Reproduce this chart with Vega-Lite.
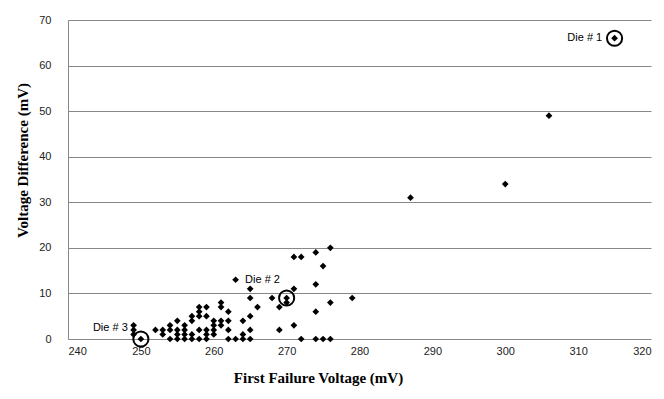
{
  "$schema": "https://vega.github.io/schema/vega-lite/v6.json",
  "width": 583,
  "height": 319,
  "autosize": "none",
  "padding": {"left": 68, "top": 20, "right": 13, "bottom": 60},
  "background": "white",
  "config": {
    "view": {"stroke": null},
    "axis": {"labelFont": "Liberation Sans", "labelFontSize": 11, "labelColor": "#222", "titleFont": "Liberation Serif", "titleFontSize": 15, "titleFontWeight": "bold", "titleColor": "#000", "domainColor": "#888", "gridColor": "#888", "ticks": false, "tickSize": 0}
  },
  "datasets": {
    "pts": [
      {"v": 315, "d": 66}, {"v": 306, "d": 49}, {"v": 300, "d": 34}, {"v": 287, "d": 31}, {"v": 279, "d": 9},
      {"v": 276, "d": 20}, {"v": 276, "d": 8}, {"v": 276, "d": 0}, {"v": 275, "d": 16}, {"v": 275, "d": 0},
      {"v": 274, "d": 19}, {"v": 274, "d": 12}, {"v": 274, "d": 6}, {"v": 274, "d": 0}, {"v": 272, "d": 18},
      {"v": 272, "d": 0}, {"v": 271, "d": 18}, {"v": 271, "d": 11}, {"v": 271, "d": 3}, {"v": 270, "d": 9},
      {"v": 270, "d": 8}, {"v": 269, "d": 7}, {"v": 269, "d": 2}, {"v": 268, "d": 9}, {"v": 266, "d": 7},
      {"v": 265, "d": 11}, {"v": 265, "d": 9}, {"v": 265, "d": 5}, {"v": 265, "d": 2}, {"v": 265, "d": 0},
      {"v": 264, "d": 4}, {"v": 264, "d": 1}, {"v": 264, "d": 0}, {"v": 263, "d": 13}, {"v": 263, "d": 0},
      {"v": 262, "d": 6}, {"v": 262, "d": 4}, {"v": 262, "d": 2}, {"v": 262, "d": 0}, {"v": 261, "d": 8},
      {"v": 261, "d": 7}, {"v": 261, "d": 4}, {"v": 261, "d": 3}, {"v": 260, "d": 4}, {"v": 260, "d": 3},
      {"v": 260, "d": 2}, {"v": 260, "d": 1}, {"v": 259, "d": 7}, {"v": 259, "d": 5}, {"v": 259, "d": 2},
      {"v": 259, "d": 1}, {"v": 259, "d": 0}, {"v": 258, "d": 7}, {"v": 258, "d": 6}, {"v": 258, "d": 5},
      {"v": 258, "d": 2}, {"v": 258, "d": 0}, {"v": 257, "d": 5}, {"v": 257, "d": 4}, {"v": 257, "d": 1},
      {"v": 257, "d": 0}, {"v": 256, "d": 3}, {"v": 256, "d": 2}, {"v": 256, "d": 1}, {"v": 256, "d": 0},
      {"v": 255, "d": 4}, {"v": 255, "d": 2}, {"v": 255, "d": 1}, {"v": 255, "d": 0}, {"v": 254, "d": 3},
      {"v": 254, "d": 2}, {"v": 254, "d": 0}, {"v": 253, "d": 2}, {"v": 253, "d": 1}, {"v": 252, "d": 2},
      {"v": 250, "d": 0}, {"v": 249, "d": 3}, {"v": 249, "d": 2}, {"v": 249, "d": 1}
    ],
    "dies": [
      {"v": 315, "d": 66, "label": "Die # 1", "lv": 313.3, "ld": 66, "side": "right"},
      {"v": 270, "d": 9, "label": "Die # 2", "lv": 264.3, "ld": 13, "side": "left"},
      {"v": 250, "d": 0, "label": "Die # 3", "lv": 248.2, "ld": 2.4, "side": "right"}
    ]
  },
  "layer": [
    {
      "data": {"name": "pts"},
      "mark": {"type": "point", "shape": "diamond", "filled": true, "color": "#000", "size": 45, "opacity": 1},
      "encoding": {
        "x": {"field": "v", "type": "quantitative", "scale": {"domain": [240, 320], "nice": false, "zero": false},
          "axis": {"values": [240, 250, 260, 270, 280, 290, 300, 310, 320], "grid": false, "domain": false, "labelPadding": 6, "title": "First Failure Voltage (mV)", "titlePadding": 14, "titleX": 250, "titleAlign": "center"}},
        "y": {"field": "d", "type": "quantitative", "scale": {"domain": [0, 70], "nice": false},
          "axis": {"values": [0, 10, 20, 30, 40, 50, 60, 70], "grid": true, "domain": true, "labelPadding": 17, "title": "Voltage Difference (mV)", "titlePadding": 8, "titleY": 140, "titleAlign": "center"}}
      }
    },
    {
      "data": {"name": "dies"},
      "mark": {"type": "point", "shape": "circle", "filled": false, "stroke": "#000", "strokeWidth": 2, "size": 230, "opacity": 1},
      "encoding": {
        "x": {"field": "v", "type": "quantitative"},
        "y": {"field": "d", "type": "quantitative"}
      }
    },
    {
      "data": {"name": "dies"},
      "transform": [{"filter": "datum.side === 'right'"}],
      "mark": {"type": "text", "font": "Liberation Sans", "fontSize": 11, "color": "#000", "baseline": "middle", "align": "right"},
      "encoding": {
        "x": {"field": "lv", "type": "quantitative"},
        "y": {"field": "ld", "type": "quantitative"},
        "text": {"field": "label"}
      }
    },
    {
      "data": {"name": "dies"},
      "transform": [{"filter": "datum.side === 'left'"}],
      "mark": {"type": "text", "font": "Liberation Sans", "fontSize": 11, "color": "#000", "baseline": "middle", "align": "left"},
      "encoding": {
        "x": {"field": "lv", "type": "quantitative"},
        "y": {"field": "ld", "type": "quantitative"},
        "text": {"field": "label"}
      }
    }
  ]
}
